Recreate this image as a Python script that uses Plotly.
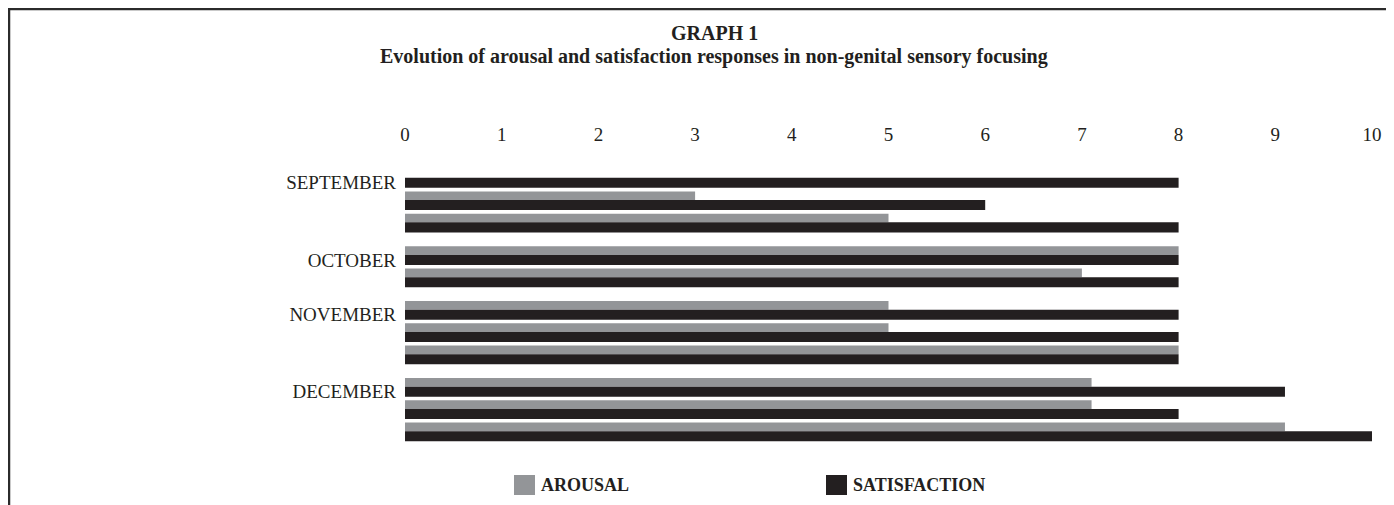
import plotly.graph_objects as go

# ---- data ----
series_names = ["AROUSAL", "SATISFACTION"]
months = ["SEPTEMBER", "OCTOBER", "NOVEMBER", "DECEMBER"]
sessions_per_month = [3, 2, 3, 3]
arousal = [0, 3, 5, 8, 7, 5, 5, 8, 7.1, 7.1, 9.1]
satisfaction = [8, 6, 8, 8, 8, 8, 8, 8, 9.1, 8, 10]
x_ticks = list(range(0, 11))

# ---- style ----
GRAY = "#939598"
BLACK = "#231f20"
FONT = "Liberation Serif"
OFF = 8                      # page margin of the html body
W, H = 1394 - OFF, 505 - OFF
# plot area in page pixels: x 405..1372, y 165..447
L, R = 405 - OFF, 1394 - 1372
T, B = 165 - OFF, 505 - 447
PW, PH = W - L - R, H - T - B
MONTH_GAP = 0.46

# category positions (sessions grouped by month)
positions, month_pos = [], []
p = 0.0
for n in sessions_per_month:
    month_pos.append(p)
    for _ in range(n):
        positions.append(p)
        p += 1
    p += MONTH_GAP


def px_x(page_px):
    return (page_px - OFF - L) / PW


def px_y(page_py):
    return (H - B - (page_py - OFF)) / PH


fig = go.Figure()
fig.add_trace(go.Bar(name=series_names[0], orientation="h", x=arousal, y=positions,
                     offset=-0.615, width=0.39, marker=dict(color=GRAY, line=dict(width=0))))
fig.add_trace(go.Bar(name=series_names[1], orientation="h", x=satisfaction, y=positions,
                     offset=-0.225, width=0.45, marker=dict(color=BLACK, line=dict(width=0))))

shapes = [
    dict(type="line", xref="paper", yref="paper", x0=px_x(8), x1=px_x(1400),
         y0=px_y(9), y1=px_y(9), line=dict(color="#2b2b2b", width=2.5)),
    dict(type="line", xref="paper", yref="paper", x0=px_x(9), x1=px_x(9),
         y0=px_y(8), y1=px_y(510), line=dict(color="#2b2b2b", width=2.5)),
]
annotations = [
    dict(text="<b>GRAPH 1</b>", xref="paper", yref="paper", x=px_x(714), y=px_y(33),
         xanchor="center", yanchor="middle",
         showarrow=False, font=dict(family=FONT, size=20, color=BLACK)),
    dict(text="<b>Evolution of arousal and satisfaction responses in non-genital sensory focusing</b>",
         xref="paper", yref="paper", x=px_x(714), y=px_y(57), xanchor="center", yanchor="middle",
         showarrow=False, font=dict(family=FONT, size=20, color=BLACK)),
]
# legend (drawn as swatches + labels)
legend_items = [(series_names[0], GRAY, 514), (series_names[1], BLACK, 826)]
for name, col, lx in legend_items:
    shapes.append(dict(type="rect", xref="paper", yref="paper", x0=px_x(lx), x1=px_x(lx + 21),
                       y0=px_y(495), y1=px_y(475), fillcolor=col, line=dict(width=0)))
    annotations.append(dict(text="<b>%s</b>" % name, xref="paper", yref="paper",
                            x=px_x(lx + 25), y=px_y(485), xanchor="left", yanchor="middle",
                            showarrow=False, font=dict(family=FONT, size=18, color=BLACK)))

fig.update_layout(
    width=W, height=H, margin=dict(l=L, r=R, t=T, b=B, pad=0),
    paper_bgcolor="white", plot_bgcolor="white", barmode="overlay", showlegend=False,
    shapes=shapes, annotations=annotations,
    xaxis=dict(side="top", range=[0, 10], tickvals=x_ticks, ticktext=[str(v) for v in x_ticks],
               showgrid=False, zeroline=False, showline=False, ticks="",
               ticklabelstandoff=19,
               tickfont=dict(family=FONT, size=19, color=BLACK)),
    yaxis=dict(range=[positions[-1] + 0.48, -0.8], tickvals=month_pos, ticktext=months,
               showgrid=False, zeroline=False, showline=False, ticks="",
               ticklabelstandoff=8,
               tickfont=dict(family=FONT, size=19, color=BLACK)),
)
fig.write_html("out.html")
